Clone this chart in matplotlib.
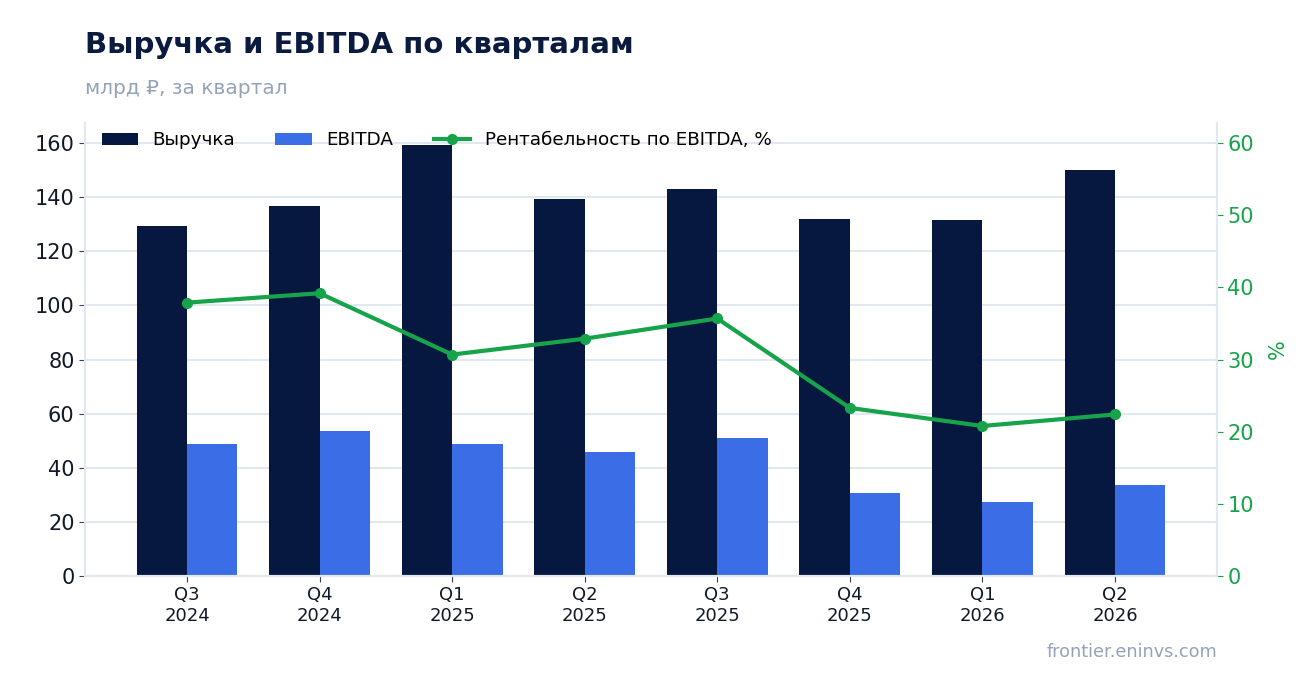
import matplotlib
matplotlib.use("Agg")
import matplotlib.pyplot as plt
import numpy as np

quarters = ["Q3\n2024", "Q4\n2024", "Q1\n2025", "Q2\n2025", "Q3\n2025", "Q4\n2025", "Q1\n2026", "Q2\n2026"]
revenue = [129.3, 136.7, 159.3, 139.3, 143.0, 131.9, 131.6, 150.0]
ebitda = [48.8, 53.6, 48.8, 45.8, 51.0, 30.7, 27.3, 33.6]
margin = [37.9, 39.2, 30.7, 32.9, 35.7, 23.3, 20.8, 22.4]

NAVY = "#061740"
BLUE = "#3b6de6"
GREEN = "#16a34a"
GRID = "#e2e8f0"
GRAY = "#94a3b8"

plt.rcParams['font.family'] = ['DejaVu Sans']
fig = plt.figure(figsize=(13.16, 6.93), dpi=100)
ax = fig.add_axes([0.0646, 0.1688, 0.8602, 0.6537])
x = np.arange(len(quarters))
w = 0.38
ax.bar(x - w/2, revenue, w, color=NAVY, label="Выручка", zorder=2)
ax.bar(x + w/2, ebitda, w, color=BLUE, label="EBITDA", zorder=2)
ax.set_xlim(-0.77, len(quarters) - 1 + 0.77)
ax.set_ylim(0, 167.4)
ax.set_yticks(np.arange(0, 161, 20))
ax.set_xticks(x)
ax.set_xticklabels(quarters, fontsize=13, color="#111827")
ax.tick_params(axis='y', labelsize=15, colors="#111827", length=4, color="#334155")
ax.tick_params(axis='x', length=4, color="#334155")
ax.grid(axis='y', color=GRID, linewidth=1.5, zorder=0)
ax.set_axisbelow(True)
ax.spines['top'].set_visible(False)
for s in ['left', 'right', 'bottom']:
    ax.spines[s].set_color(GRID)
    ax.spines[s].set_linewidth(1.5)

ax2 = ax.twinx()
ax2.plot(x, margin, color=GREEN, linewidth=3, marker='o', markersize=7, label="Рентабельность по EBITDA, %", zorder=3)
ax2.set_ylim(0, 62.8)
ax2.set_yticks(np.arange(0, 61, 10))
ax2.tick_params(axis='y', labelsize=15, colors=GREEN, length=4)
ax2.set_ylabel("%", color=GREEN, fontsize=15, labelpad=10)
ax2.spines['top'].set_visible(False)
for s in ['left', 'right', 'bottom']:
    ax2.spines[s].set_color(GRID)
    ax2.spines[s].set_linewidth(1.5)

h1, l1 = ax.get_legend_handles_labels()
h2, l2 = ax2.get_legend_handles_labels()
ax.legend(h1 + h2, l1 + l2, loc='upper left', ncol=3, frameon=False, fontsize=13.2,
          bbox_to_anchor=(0.0, 1.018), handlelength=2.0, handletextpad=0.78, columnspacing=2.2)

fig.text(0.0646, 0.935, "Выручка и EBITDA по кварталам", fontsize=21, fontweight='bold', color="#0b1a3f", va='center')
fig.text(0.0646, 0.873, "млрд ₽, за квартал", fontsize=14.5, color=GRAY, va='center')
fig.text(0.9248, 0.059, "frontier.eninvs.com", fontsize=12.7, color=GRAY, ha='right', va='center')

fig.savefig("out.png", dpi=100)
